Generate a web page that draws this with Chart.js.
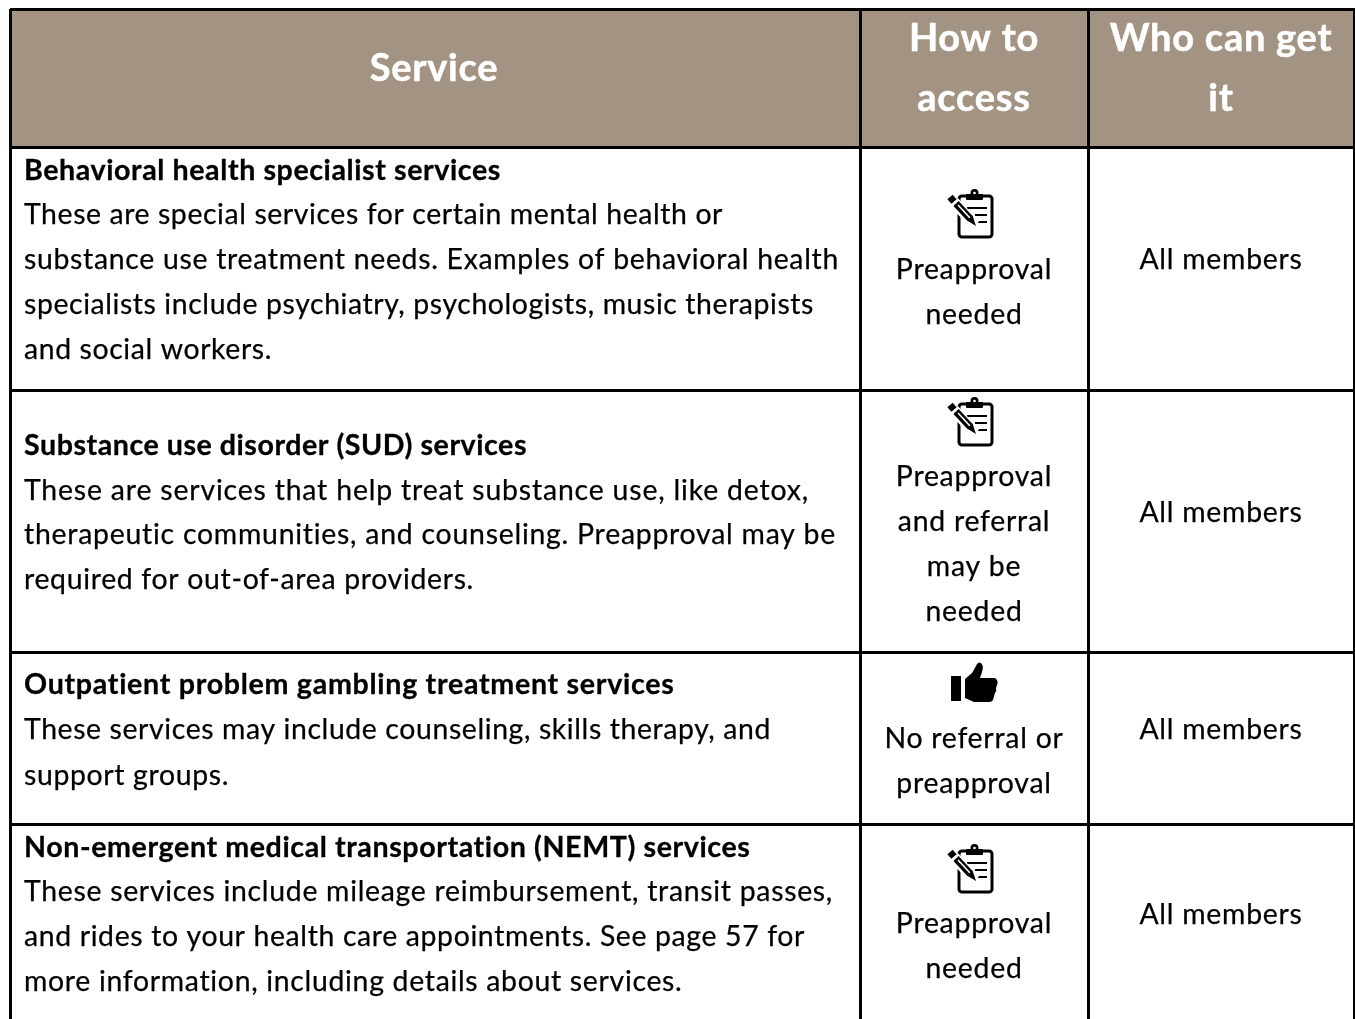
<!DOCTYPE html>
<html lang="en">
<head>
  <meta charset="UTF-8">
  <title>Services table</title>
  <script src="https://cdn.jsdelivr.net/npm/chart.js"></script>
  <style>
    html, body { margin: 0; background: #fff; }
    canvas { display: block; }
  </style>
</head>
<body>
  <canvas id="table" width="1355" height="1019"></canvas>
  <script>
    // table content
    const headers = [["Service"], ["How to", "access"], ["Who can get", "it"]];
    const services = [
      ["Behavioral health specialist services"],
      ["Substance use disorder (SUD) services"],
      ["Outpatient problem gambling treatment services"],
      ["Non-emergent medical transportation (NEMT) services"]
    ];
    const descriptions = [
      ["These are special services for certain mental health or",
       "substance use treatment needs. Examples of behavioral health",
       "specialists include psychiatry, psychologists, music therapists",
       "and social workers."],
      ["These are services that help treat substance use, like detox,",
       "therapeutic communities, and counseling. Preapproval may be",
       "required for out-of-area providers."],
      ["These services may include counseling, skills therapy, and",
       "support groups."],
      ["These services include mileage reimbursement, transit passes,",
       "and rides to your health care appointments. See page 57 for",
       "more information, including details about services."]
    ];
    const access = [
      ["Preapproval", "needed"],
      ["Preapproval", "and referral", "may be", "needed"],
      ["No referral or", "preapproval"],
      ["Preapproval", "needed"]
    ];
    const accessIcons = ["clipboard", "clipboard", "thumb", "clipboard"];
    const members = ["All members", "All members", "All members", "All members"];

    // layout, in page pixels
    const columnLines = [10, 860, 1088, 1354];
    const rowLines = [9, 147, 390, 652, 824];
    const columnCentres = [434, 974, 1221];
    const iconColumns = [972, 972, 975, 972];
    const iconRows = [214, 422, 682, 869];
    const headerBaselines = [[81], [51, 111], [51, 111]];
    const serviceBaselines = [180, 455, 694, 857];
    const descriptionBaselines = [[224, 269, 314, 359], [500, 544, 589], [739, 785], [901, 946, 991]];
    const accessBaselines = [[279, 324], [486, 531, 576, 621], [748, 793], [933, 978]];
    const memberBaselines = [269, 522, 739, 924];
    const textLeft = 24;
    // right edge of each left aligned line (Lato runs a bit different from the source font)
    const serviceEnds = [501, 527, 675, 751];
    const descriptionEnds = [[723, 839, 814, 272], [809, 837, 474], [771, 229], [833, 805, 683]];

    const FONT = "Lato, sans-serif";
    const TRACKING = 0.75;

    function clipboardIcon() {
      const c = document.createElement("canvas");
      c.width = 52; c.height = 54;
      const g = c.getContext("2d");
      g.strokeStyle = g.fillStyle = "#000";
      g.lineWidth = 3;
      g.beginPath();
      g.roundRect(13, 9, 33, 41, 3);
      g.stroke();
      // clip
      g.beginPath();
      g.roundRect(20, 7, 17, 6, 1);
      g.fill();
      g.beginPath();
      g.arc(28.5, 6, 4, 0, Math.PI * 2);
      g.fill();
      g.fillStyle = "#fff";
      g.beginPath();
      g.arc(28.5, 6, 1.3, 0, Math.PI * 2);
      g.fill();
      // ruled lines
      g.fillStyle = "#000";
      g.fillRect(21, 20, 20, 2);
      g.fillRect(29, 27, 12, 2);
      g.fillRect(32, 34, 9, 2);
      // pencil
      g.lineCap = "butt";
      g.strokeStyle = "#fff";
      g.lineWidth = 11;
      g.beginPath(); g.moveTo(8, 15); g.lineTo(29, 38); g.stroke();
      g.strokeStyle = "#000";
      g.lineWidth = 7;
      g.beginPath(); g.moveTo(4, 10); g.lineTo(8, 14.5); g.stroke();
      g.beginPath(); g.moveTo(10, 16.5); g.lineTo(24, 31.5); g.stroke();
      g.strokeStyle = "#fff";
      g.lineWidth = 1.6;
      g.beginPath(); g.moveTo(12, 18); g.lineTo(24, 31); g.stroke();
      g.fillStyle = "#000";
      g.beginPath(); g.moveTo(21, 33.5); g.lineTo(26.5, 28.5); g.lineTo(30, 39); g.closePath(); g.fill();
      return c;
    }

    function thumbIcon() {
      const c = document.createElement("canvas");
      c.width = 52; c.height = 44;
      const g = c.getContext("2d");
      g.fillStyle = "#000";
      g.fillRect(2, 16, 10, 25);
      g.beginPath();
      g.moveTo(16, 19);
      g.lineTo(23, 13);
      g.lineTo(27, 6);
      g.quadraticCurveTo(29, 1, 32, 3);
      g.quadraticCurveTo(35, 6, 33, 12);
      g.lineTo(31, 18);
      g.lineTo(46, 18);
      g.quadraticCurveTo(50, 21, 48, 25);
      g.lineTo(47, 28);
      g.quadraticCurveTo(48, 31, 46, 33);
      g.lineTo(44, 40);
      g.quadraticCurveTo(43, 42, 40, 42);
      g.lineTo(25, 42);
      g.lineTo(16, 38);
      g.closePath();
      g.fill();
      return c;
    }

    const iconImages = { clipboard: clipboardIcon(), thumb: thumbIcon() };

    const tableText = {
      id: "tableText",
      afterDraw(chart) {
        const ctx = chart.ctx;
        const x = chart.scales.x;
        const y = chart.scales.y;
        const put = (text, px, py, font, colour, align, weight, end) => {
          ctx.font = font;
          ctx.fillStyle = colour;
          ctx.strokeStyle = colour;
          ctx.lineWidth = weight;
          ctx.textAlign = align;
          let spacing = TRACKING;
          if (end) {
            // stretch the tracking so the line ends where it does in the reference
            ctx.letterSpacing = "0px";
            spacing = (end - px - ctx.measureText(text).width) / text.length;
          }
          ctx.letterSpacing = spacing + "px";
          const sx = x.getPixelForValue(px);
          const sy = y.getPixelForValue(py);
          ctx.fillText(text, sx, sy);
          if (weight) ctx.strokeText(text, sx, sy); // the source text is heavier than Lato
        };
        ctx.save();
        ctx.textBaseline = "alphabetic";
        headers.forEach((lines, c) => lines.forEach((line, i) =>
          put(line, columnCentres[c], headerBaselines[c][i], "bold 38px " + FONT, "#fff", "center", 0.5)));
        services.forEach((lines, r) =>
          put(lines[0], textLeft, serviceBaselines[r], "bold 28.6px " + FONT, "#000", "left", 0.3, serviceEnds[r]));
        descriptions.forEach((lines, r) => lines.forEach((line, i) =>
          put(line, textLeft, descriptionBaselines[r][i], "28.4px " + FONT, "#000", "left", 0.25, descriptionEnds[r][i])));
        access.forEach((lines, r) => lines.forEach((line, i) =>
          put(line, columnCentres[1], accessBaselines[r][i], "28.4px " + FONT, "#000", "center", 0.25)));
        members.forEach((line, r) =>
          put(line, columnCentres[2], memberBaselines[r], "28.4px " + FONT, "#000", "center", 0.25));
        ctx.restore();
      }
    };

    new Chart(document.getElementById("table").getContext("2d"), {
      type: "scatter",
      data: {
        datasets: [
          {
            // icons in the "How to access" column
            data: iconRows.map((r, i) => ({ x: iconColumns[i], y: r })),
            pointStyle: accessIcons.map(n => iconImages[n]),
            showLine: false,
            order: 0
          },
          {
            // header band
            data: [{ x: columnLines[0], y: rowLines[0] }, { x: columnLines[3], y: rowLines[0] }],
            showLine: true,
            pointRadius: 0,
            borderWidth: 0,
            backgroundColor: "#a39382",
            fill: { value: rowLines[1] },
            order: 1
          }
        ]
      },
      plugins: [tableText],
      options: {
        responsive: false,
        animation: false,
        layout: { autoPadding: false, padding: { left: 10, top: 9, right: 0, bottom: 0 } },
        plugins: { legend: { display: false }, tooltip: { enabled: false } },
        scales: {
          x: {
            type: "linear",
            min: 10,
            max: 1355,
            afterBuildTicks: s => { s.ticks = columnLines.map(v => ({ value: v })); },
            ticks: { display: false },
            border: { display: false },
            grid: { color: "#000", lineWidth: 3, drawTicks: false, z: 1 }
          },
          y: {
            type: "linear",
            reverse: true,
            min: 9,
            max: 1019,
            afterBuildTicks: s => { s.ticks = rowLines.map(v => ({ value: v })); },
            ticks: { display: false },
            border: { display: false },
            grid: { color: "#000", lineWidth: 3, drawTicks: false, z: 1 }
          }
        }
      }
    });
  </script>
</body>
</html>
